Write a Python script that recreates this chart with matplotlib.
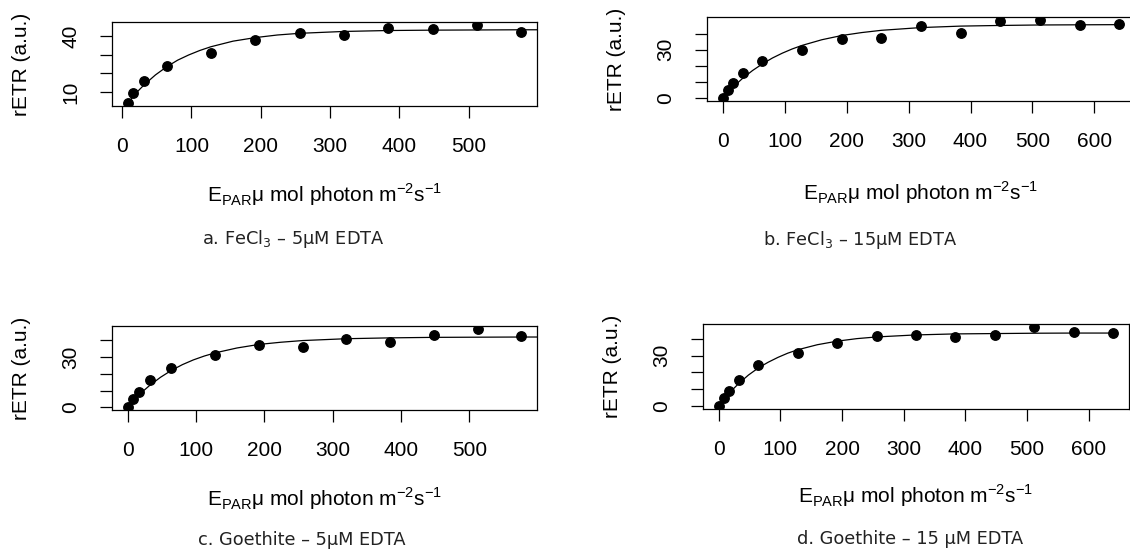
import numpy as np
import matplotlib
matplotlib.use("Agg")
import matplotlib.pyplot as plt

plt.rcParams['font.family'] = ['Liberation Sans', 'DejaVu Sans']
plt.rcParams['mathtext.fontset'] = 'custom'
plt.rcParams['mathtext.rm'] = 'Liberation Sans'

# light levels (umol photon m-2 s-1) and rETR
epar_a = [8, 16, 32, 64, 128, 192, 256, 320, 384, 448, 512, 576]
retr_a = [4.2, 9.3, 16.1, 24.0, 31.2, 37.8, 41.5, 40.8, 44.4, 43.7, 45.9, 42.1]

epar_b = [0, 8, 16, 32, 64, 128, 192, 256, 320, 384, 448, 512, 576, 640]
retr_b = [0.3, 5.0, 9.6, 15.5, 23.0, 29.6, 36.5, 37.3, 44.5, 40.4, 47.6, 48.3, 45.0, 45.8]

epar_c = [0, 8, 16, 32, 64, 128, 192, 256, 320, 384, 448, 512, 576]
retr_c = [0.3, 5.0, 9.4, 16.0, 23.4, 31.0, 37.0, 35.6, 40.5, 38.9, 43.1, 46.5, 42.3]

epar_d = [0, 8, 16, 32, 64, 128, 192, 256, 320, 384, 448, 512, 576, 640]
retr_d = [0.2, 5.1, 9.1, 15.7, 24.4, 31.5, 37.6, 41.6, 42.1, 41.0, 42.1, 46.8, 44.1, 43.1]

# fitted curves
fit_x = [0, 8, 16, 24, 32, 48, 64, 80, 96, 112, 128, 160, 192, 224, 256, 320, 384, 448, 512, 576, 640]
fit_a = [0, 4.0, 7.7, 11.0, 14.0, 19.2, 23.5, 27.1, 29.9, 32.3, 34.3, 37.3, 39.2, 40.6, 41.5, 42.5, 43.0, 43.2, 43.3, 43.4, 43.4]
fit_b = [0, 3.5, 6.7, 9.6, 12.4, 17.2, 21.3, 24.9, 27.9, 30.5, 32.7, 36.2, 38.8, 40.6, 42.0, 43.7, 44.6, 45.0, 45.3, 45.4, 45.5]
fit_c = [0, 3.7, 7.1, 10.2, 13.0, 17.9, 22.0, 25.4, 28.2, 30.5, 32.4, 35.3, 37.4, 38.7, 39.7, 40.8, 41.3, 41.6, 41.7, 41.8, 41.8]
fit_d = [0, 3.8, 7.3, 10.4, 13.3, 18.4, 22.6, 26.0, 28.9, 31.4, 33.4, 36.4, 38.5, 40.0, 41.0, 42.2, 42.8, 43.0, 43.2, 43.3, 43.3]

captions = ['a. FeCl$_{\\mathregular{3}}$ – 5μM EDTA',
            'b. FeCl$_{\\mathregular{3}}$ – 15μM EDTA',
            'c. Goethite – 5μM EDTA',
            'd. Goethite – 15 μM EDTA']

W, H = 1130, 552
fig = plt.figure(figsize=(W / 100, H / 100), dpi=100)

# axes boxes in pixels: left, right, top, bottom
boxes = [(112, 537, 22, 106), (707, 1135, 17, 101),
         (112, 537, 326, 410), (703, 1129, 324, 409)]
xlab_base = [202, 200, 506, 503]
cap_pos = [(293, 239), (860, 240), (302, 540), (910, 539)]

panels = [(epar_a, retr_a, fit_a, [10, 20, 30, 40], [10, 40], 500),
          (epar_b, retr_b, fit_b, [0, 10, 20, 30, 40], [0, 30], 600),
          (epar_c, retr_c, fit_c, [0, 10, 20, 30, 40], [0, 30], 500),
          (epar_d, retr_d, fit_d, [0, 10, 20, 30, 40], [0, 30], 600)]


def rlim(v):
    lo, hi = min(v), max(v)
    d = 0.04 * (hi - lo)
    return lo - d, hi + d


xlab = ('E$_{\\mathregular{PAR}}$μ mol photon m$^{\\mathregular{-2}}$'
        's$^{\\mathregular{-1}}$')

for i, ((x, y, f, yt, ylab_show, xmax), (l, r, t, b)) in enumerate(zip(panels, boxes)):
    ax = fig.add_axes([l / W, (H - b) / H, (r - l) / W, (b - t) / H])
    ax.plot(fit_x, f, color='black', lw=0.9, zorder=2)
    ax.plot(x, y, 'o', color='black', ms=6.8, zorder=3)
    ax.set_xlim(rlim(x))
    ax.set_ylim(rlim(y))
    ax.set_xticks(range(0, xmax + 1, 100))
    ax.set_yticks(yt)
    ax.set_yticklabels([str(v) if v in ylab_show else '' for v in yt],
                       rotation=90, va='center')
    ax.tick_params(length=8.6, width=0.9, pad=14, labelsize=15)
    for s in ax.spines.values():
        s.set_linewidth(0.9)
    # axis titles placed in pixels like the R layout
    fig.text((l + r) / 2 / W, 1 - xlab_base[i] / H, xlab, ha='center',
             va='baseline', fontsize=15)
    fig.text((l - 90) / W, 1 - (t + b) / 2 / H, 'rETR (a.u.)', ha='center',
             va='center', rotation=90, fontsize=15)
    cx, cy = cap_pos[i]
    fig.text(cx / W, 1 - cy / H, captions[i], ha='center', va='center',
             fontsize=12.8, family='DejaVu Sans', color='#222222')

fig.savefig('out.png', dpi=100)
